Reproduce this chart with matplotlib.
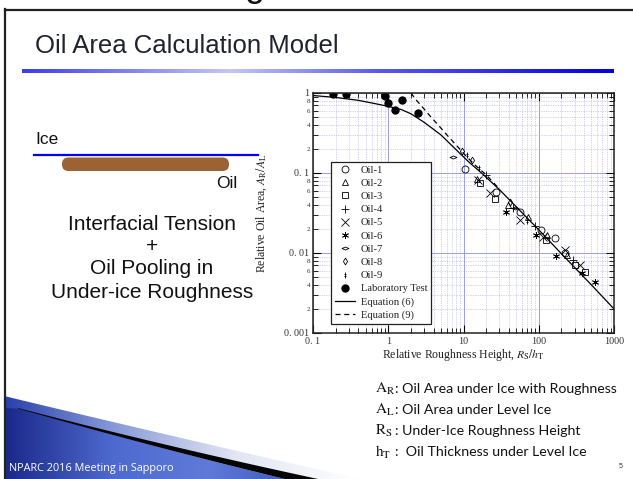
import numpy as np
import matplotlib
matplotlib.use("Agg")
import matplotlib.pyplot as plt
from matplotlib.patches import FancyBboxPatch, Polygon
from matplotlib.path import Path
from matplotlib.colors import LinearSegmentedColormap
from matplotlib.ticker import FixedLocator, FixedFormatter

plt.rcParams['mathtext.fontset'] = 'stix'

W, H = 633, 479

# ---------------- chart data ----------------
lab_x = [0.184, 0.274, 0.90, 0.99, 1.23, 1.51, 2.45]
lab_y = [0.96, 0.98, 0.917, 0.757, 0.61, 0.81, 0.57]

eq6_x = [0.1, 0.2, 0.4, 0.7, 1.0, 1.5, 2, 3, 5, 8, 12, 18, 30, 50, 100, 200, 500, 1000]
eq6_y = [0.93, 0.88, 0.81, 0.73, 0.68, 0.62, 0.55, 0.43, 0.30, 0.195, 0.135, 0.097,
         0.062, 0.038, 0.0195, 0.0098, 0.004, 0.002]

eq9_x = [2.0, 2.4, 3.0, 3.7, 4.7, 6.2, 8.3, 11, 15, 20, 30]
eq9_y = [1.0, 0.80, 0.63, 0.50, 0.39, 0.29, 0.215, 0.16, 0.12, 0.095, 0.063]

oil1_x = [10.4, 27, 56, 108, 163, 220]
oil1_y = [0.111, 0.058, 0.033, 0.0195, 0.0152, 0.0099]
oil2_x = [15, 39, 72, 130, 240]
oil2_y = [0.085, 0.040, 0.028, 0.017, 0.0095]
oil3_x = [16.6, 26, 126, 300, 410]
oil3_y = [0.074, 0.048, 0.0145, 0.0071, 0.0058]
oil4_x = [20, 45, 88, 281]
oil4_y = [0.094, 0.036, 0.022, 0.0081]
oil5_x = [15.5, 22.6, 56, 115, 220, 350]
oil5_y = [0.082, 0.056, 0.026, 0.016, 0.011, 0.0071]
oil6_x = [37, 93, 172, 370, 560]
oil6_y = [0.033, 0.0167, 0.0091, 0.0056, 0.0044]
oil7_x = [7.3, 48]
oil7_y = [0.16, 0.036]
oil8_x = [9.5, 13, 42]
oil8_y = [0.19, 0.145, 0.043]
oil9_x = [11, 16, 70]
oil9_y = [0.17, 0.115, 0.025]

x_major = [0.1, 1, 10, 100, 1000]
x_major_labels = ['0. 1', '1', '10', '100', '1000']
y_major = [0.001, 0.01, 0.1, 1]
y_major_labels = ['0. 001', '0. 01', '0. 1', '1']

definitions = [
    (r'$\mathrm{A_R}$', ': Oil Area under Ice with Roughness'),
    (r'$\mathrm{A_L}$', ': Oil Area under Level Ice'),
    (r'$\mathrm{R_S}$', ': Under-Ice Roughness Height'),
    (r'$\mathrm{h_T}$', ':  Oil Thickness under Level Ice'),
]

fig = plt.figure(figsize=(W / 100, H / 100), dpi=100)
fig.patch.set_facecolor('white')

# ---------------- slide background (pixel coordinates) ----------------
bg = fig.add_axes([0, 0, 1, 1])
bg.set_xlim(0, W)
bg.set_ylim(H, 0)
bg.axis('off')


def bez(p0, p1, p2, n=60):
    t = np.linspace(0, 1, n)[:, None]
    return (1 - t) ** 2 * np.array(p0) + 2 * (1 - t) * t * np.array(p1) + t ** 2 * np.array(p2)


def gradient_fill(poly_pts, stops, x0, x1, y0, y1, z):
    cmap = LinearSegmentedColormap.from_list('g', stops)
    grad = np.linspace(0, 1, 256)[None, :]
    im = bg.imshow(grad, cmap=cmap, extent=(x0, x1, y1, y0), aspect='auto',
                   interpolation='bilinear', zorder=z)
    patch = Polygon(poly_pts, closed=True, facecolor='none', edgecolor='none')
    bg.add_patch(patch)
    im.set_clip_path(patch)


# slide frame
bg.plot([4.5, 4.5], [9, H], color='#222222', lw=1.6, zorder=5)
bg.plot([4.5, W], [9.5, 9.5], color='#222222', lw=1.6, zorder=5)
bg.text(255, -4, 'g', fontsize=26, family='Liberation Sans', ha='center',
        va='baseline', color='#111111', zorder=5)

# title and underline
bg.text(35, 46, 'Oil Area Calculation Model', fontsize=18.5, family='Liberation Sans',
        va='center', ha='left', color='#20222e', zorder=5)
line_cmap = LinearSegmentedColormap.from_list(
    'uline', [(0, '#3c3cf0'), (0.35, '#c4c8f2'), (0.6, '#5a5af0'), (1, '#0000e6')])
bg.imshow(np.linspace(0, 1, 256)[None, :], cmap=line_cmap, extent=(22, 614, 73, 69.5),
          aspect='auto', interpolation='bilinear', zorder=4)

# ice / oil sketch
bg.text(35, 139, 'Ice', fontsize=12.5, family='Liberation Sans', va='center', color='#111111')
bg.plot([34, 258], [155, 155], color='#0000ff', lw=1.6, zorder=4)
bg.add_patch(FancyBboxPatch((62, 157.5), 167, 13.5,
                            boxstyle='round,pad=0,rounding_size=6.5',
                            facecolor='#9b6333', edgecolor='none', zorder=3))
bg.text(237, 183, 'Oil', fontsize=12.5, family='Liberation Sans', va='center',
        ha='right', color='#111111')
for txt, yy in [('Interfacial Tension', 224), ('+', 246),
                ('Oil Pooling in', 269), ('Under-ice Roughness', 292)]:
    bg.text(152, yy, txt, fontsize=15, family='Liberation Sans', va='center',
            ha='center', color='#111111')

# definitions
for i, (sym, desc) in enumerate(definitions):
    yy = 389 + i * 21
    bg.text(375, yy, sym, fontsize=11, va='center', ha='left', color='#111111')
    bg.text(395, yy, desc, fontsize=10.2, family='Lato', va='center', ha='left',
            color='#111111')

# footer swoosh
upper = bez((4, 396), (170, 436), (360, 479))
gradient_fill(np.vstack([upper, [(4, 479)]]),
              [(0, '#2840ac'), (0.3, '#8597d8'), (0.65, '#e2e6f3'), (1, '#ffffff')],
              4, 360, 394, 479, 1)
band_top = bez((18, 408), (160, 445), (318, 479))
thick = np.linspace(0.6, 8, len(band_top))
band_bot = band_top + np.column_stack([np.zeros(len(band_top)), thick])
band_poly = np.vstack([band_top, band_bot[::-1]])
bg.add_patch(Polygon(band_poly, closed=True, facecolor='#050505', edgecolor='none', zorder=2))
lower = np.vstack([band_bot, [(4, 490), (4, 408)]])
gradient_fill(lower,
              [(0, '#1a2888'), (0.35, '#4e6ad0'), (0.65, '#5f7ad8'), (1, '#3550b8')],
              4, 318, 406, 479, 1.5)
bg.text(9, 468, 'NPARC 2016 Meeting in Sapporo', fontsize=7.8, family='Open Sans',
        color='white', va='center', ha='left', zorder=6)
bg.text(621, 466, '5', fontsize=5, family='Liberation Sans', color='#333333',
        va='center', ha='center')

bg.set_xlim(0, W)
bg.set_ylim(H, 0)

# ---------------- chart ----------------
x0, x1, y0, y1 = 313, 614, 93, 333
ax = fig.add_axes([x0 / W, 1 - y1 / H, (x1 - x0) / W, (y1 - y0) / H])
ax.set_facecolor('white')
ax.set_xscale('log')
ax.set_yscale('log')
ax.set_xlim(0.1, 1000)
ax.set_ylim(0.001, 1)

serif = 'Liberation Serif'
mk = dict(color='black', markerfacecolor='none', markeredgecolor='black',
          markeredgewidth=0.6, linestyle='none')
ellipse = Path([(-1, 0), (0, 0.42), (1, 0), (0, -0.42), (-1, 0)],
               [Path.MOVETO, Path.LINETO, Path.LINETO, Path.LINETO, Path.CLOSEPOLY])
dag = Path([(0, -1), (0, 1), (-0.45, 0.35), (0.45, 0.35), (-0.45, -0.35), (0.45, -0.35)],
           [Path.MOVETO, Path.LINETO, Path.MOVETO, Path.LINETO, Path.MOVETO, Path.LINETO])

ax.plot(oil1_x, oil1_y, marker='o', markersize=5, label='Oil-1', **mk)
ax.plot(oil2_x, oil2_y, marker='^', markersize=5, label='Oil-2', **mk)
ax.plot(oil3_x, oil3_y, marker='s', markersize=5, label='Oil-3', **mk)
ax.plot(oil4_x, oil4_y, marker='+', markersize=5.5, label='Oil-4', **mk)
ax.plot(oil5_x, oil5_y, marker='x', markersize=5.5, label='Oil-5', **mk)
ax.plot(oil6_x, oil6_y, marker=(6, 2, 0), markersize=5, label='Oil-6', **mk)
ax.plot(oil7_x, oil7_y, marker=ellipse, markersize=5, label='Oil-7', **mk)
ax.plot(oil8_x, oil8_y, marker='d', markersize=3.5, label='Oil-8', **mk)
ax.plot(oil9_x, oil9_y, marker=dag, markersize=4, label='Oil-9', **mk)
ax.plot(lab_x, lab_y, marker='o', markersize=5, color='black', linestyle='none',
        label='Laboratory Test')
ax.plot(eq6_x, eq6_y, color='black', lw=0.9, label='Equation (6)')
ax.plot(eq9_x, eq9_y, color='black', lw=0.9, dashes=(4, 3), label='Equation (9)')

ax.xaxis.set_major_locator(FixedLocator(x_major))
ax.xaxis.set_major_formatter(FixedFormatter(x_major_labels))
ax.yaxis.set_major_locator(FixedLocator(y_major))
ax.yaxis.set_major_formatter(FixedFormatter(y_major_labels))

x_minor = [m * 10.0 ** e for e in range(-1, 3) for m in range(2, 10)]
y_minor = [m * 10.0 ** e for e in range(-3, 0) for m in range(2, 10)]
y_minor_labels = [str(m) if m in (2, 4, 6, 8) else '' for e in range(-3, 0) for m in range(2, 10)]
ax.xaxis.set_minor_locator(FixedLocator(x_minor))
ax.xaxis.set_minor_formatter(FixedFormatter([''] * len(x_minor)))
ax.yaxis.set_minor_locator(FixedLocator(y_minor))
ax.yaxis.set_minor_formatter(FixedFormatter(y_minor_labels))

ax.tick_params(which='both', direction='in', top=True, right=True, color='black')
ax.tick_params(which='major', length=6, width=0.8, labelsize=7.3, pad=3)
ax.tick_params(which='minor', length=3.5, width=0.6, labelsize=5, pad=2)
for lab in ax.get_xticklabels() + ax.get_yticklabels() + ax.get_yticklabels(minor=True):
    lab.set_family(serif)
    lab.set_color('#333333')

ax.grid(which='major', color='#8c8ce6', lw=0.6, ls='-')
ax.grid(which='minor', color='#a9a9e6', lw=0.5, ls=(0, (1, 1.5)))
ax.set_axisbelow(True)
for sp in ax.spines.values():
    sp.set_linewidth(1.1)
    sp.set_color('#222222')

ax.set_xlabel(r'Relative Roughness Height, $R_{\rm S}/h_{\rm T}$', family=serif,
              fontsize=8.5, va='center', color='#222222')
ax.xaxis.set_label_coords(0.5, -(355 - y1) / (y1 - y0))
ax.set_ylabel(r'Relative Oil Area, $A_{\rm R}/A_{\rm L}$', family=serif,
              fontsize=8.5, va='center', color='#222222')
ax.yaxis.set_label_coords(-(x0 - 262) / (x1 - x0), 0.5)

leg = ax.legend(loc='lower left', bbox_to_anchor=((331 - x0) / (x1 - x0), (y1 - 324) / (y1 - y0)),
                prop={'family': serif, 'size': 7.6}, frameon=True, fancybox=False,
                edgecolor='#222222', framealpha=1, borderpad=0.35, labelspacing=0.36,
                handlelength=1.9, handletextpad=0.6, borderaxespad=0)
leg.get_frame().set_linewidth(0.9)
for t in leg.get_texts():
    t.set_color('#222222')

fig.savefig('out.png', dpi=100)
